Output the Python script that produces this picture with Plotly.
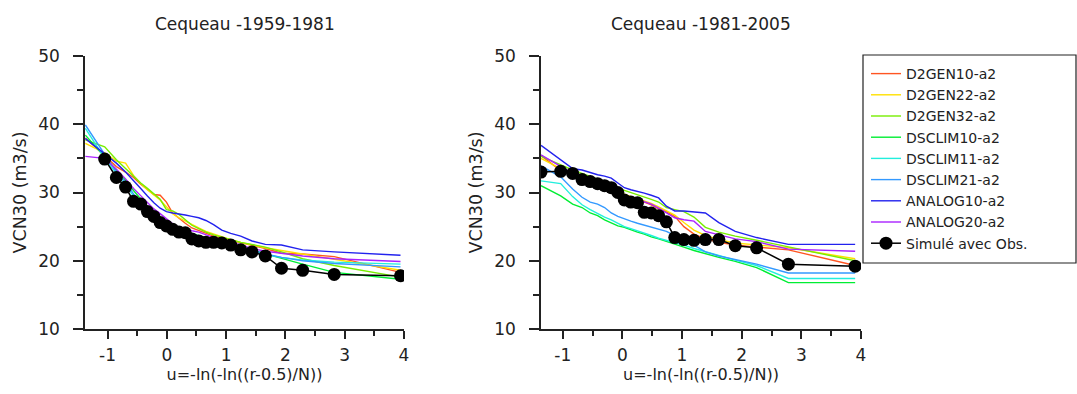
import plotly.graph_objects as go

# ---------------- data ----------------
series_names = ["D2GEN10-a2", "D2GEN22-a2", "D2GEN32-a2", "DSCLIM10-a2",
                "DSCLIM11-a2", "DSCLIM21-a2", "ANALOG10-a2", "ANALOG20-a2"]
obs_name = "Simulé avec Obs."

# reduced variable u = -ln(-ln((r-0.5)/N)), period 1959-1981 (26 ranks)
u_left = [-1.374, -1.048, -0.851, -0.696, -0.562, -0.440, -0.327, -0.218, -0.112,
          -0.007, 0.098, 0.204, 0.311, 0.423, 0.538, 0.659, 0.788, 0.927, 1.078,
          1.246, 1.437, 1.661, 1.934, 2.291, 2.823, 3.941]
# period 1981-2005 (25 ranks)
u_right = [-1.364, -1.034, -0.834, -0.676, -0.539, -0.415, -0.298, -0.186, -0.076,
           0.033, 0.142, 0.253, 0.367, 0.484, 0.608, 0.738, 0.878, 1.031, 1.200,
           1.392, 1.617, 1.892, 2.250, 2.783, 3.902]

left_D2GEN10 = [38.0, 35.3, 33.8, 33.0, 32.2, 31.2, 30.4, 29.7, 29.6, 28.6, 27.0, 26.2, 25.5,
                24.8, 24.4, 24.0, 23.6, 23.3, 23.0, 22.6, 22.3, 21.8, 21.1, 21.0, 20.6, 18.3]
left_D2GEN22 = [37.2, 35.8, 34.6, 34.3, 32.5, 31.3, 30.4, 29.6, 28.9, 27.9, 26.9, 26.3, 25.8,
                25.3, 24.8, 24.3, 23.9, 23.5, 23.1, 22.7, 22.3, 21.9, 21.5, 21.0, 20.2, 18.6]
left_D2GEN32 = [37.7, 36.7, 34.8, 33.5, 32.3, 31.4, 30.6, 29.8, 29.0, 27.5, 27.3, 26.8, 26.0,
                25.2, 24.7, 24.2, 23.8, 23.5, 23.1, 22.7, 22.4, 22.0, 21.3, 20.3, 19.3, 17.6]
left_DSCLIM10 = [38.4, 35.2, 33.3, 31.8, 30.3, 29.0, 27.9, 27.0, 26.2, 25.6, 25.1, 24.7, 24.3,
                 24.0, 23.6, 23.3, 23.0, 22.7, 22.4, 22.0, 21.6, 21.0, 20.3, 19.5, 18.3, 17.3]
left_DSCLIM11 = [39.4, 35.0, 32.8, 31.0, 29.5, 28.3, 27.4, 26.6, 25.9, 25.3, 24.8, 24.4, 24.0,
                 23.7, 23.4, 23.1, 22.8, 22.5, 22.2, 21.8, 21.4, 20.9, 20.5, 20.1, 19.8, 19.5]
left_DSCLIM21 = [39.9, 35.5, 33.0, 31.5, 29.8, 28.6, 27.6, 26.7, 26.0, 25.4, 25.0, 24.6, 24.2,
                 23.8, 23.5, 23.2, 23.0, 22.7, 22.4, 22.0, 21.6, 21.0, 20.5, 20.0, 19.6, 19.1]
left_ANALOG10 = [37.9, 35.6, 34.3, 33.0, 31.8, 30.6, 29.5, 28.5, 27.7, 27.2, 27.0, 26.9, 26.7,
                 26.5, 26.3, 25.9, 25.3, 24.5, 24.0, 23.6, 22.9, 22.4, 22.3, 21.6, 21.3, 20.8]
left_ANALOG20 = [35.3, 35.0, 33.4, 32.0, 30.6, 29.5, 28.5, 27.6, 26.9, 26.2, 25.4, 24.9, 24.6,
                 24.4, 24.2, 23.8, 23.4, 23.1, 22.8, 22.3, 21.8, 21.4, 21.1, 20.7, 20.3, 19.9]
# observed-driven simulation (ranks 2..26)
u_left_obs = u_left[1:]
left_obs = [34.9, 32.2, 30.8, 28.7, 28.3, 27.2, 26.5, 25.6, 25.1, 24.6, 24.2, 24.1, 23.2,
            22.9, 22.7, 22.7, 22.6, 22.3, 21.6, 21.3, 20.7, 18.9, 18.6, 18.0, 17.8]

right_D2GEN10 = [35.4, 33.2, 32.6, 32.2, 31.8, 31.3, 30.8, 30.4, 30.0, 29.6, 29.3, 29.0, 28.6,
                 28.2, 27.6, 27.2, 26.5, 25.0, 23.9, 23.2, 22.7, 22.3, 22.0, 21.6, 19.3]
right_D2GEN22 = [35.0, 33.5, 32.8, 32.3, 31.8, 31.3, 30.9, 30.5, 30.1, 29.7, 29.4, 29.1, 28.8,
                 28.4, 27.9, 27.3, 26.7, 25.6, 24.5, 23.7, 23.1, 22.6, 22.3, 21.9, 20.3]
right_D2GEN32 = [35.3, 34.0, 33.3, 32.8, 32.4, 32.0, 31.6, 31.2, 30.6, 30.3, 30.0, 29.7, 29.4,
                 29.0, 28.6, 27.8, 27.5, 27.2, 26.4, 24.9, 24.2, 23.6, 23.0, 22.0, 20.0]
right_DSCLIM10 = [31.0, 29.5, 28.3, 27.8, 27.0, 26.6, 26.0, 25.6, 25.1, 24.9, 24.5, 24.2, 23.9,
                  23.5, 23.2, 22.8, 22.4, 22.0, 21.5, 21.0, 20.5, 19.9, 19.0, 16.8, 16.8]
right_DSCLIM11 = [31.7, 31.3, 29.4, 28.2, 27.5, 26.9, 26.4, 26.0, 25.5, 25.0, 24.7, 24.4, 24.1,
                  23.7, 23.3, 23.0, 22.7, 22.3, 21.8, 21.3, 20.8, 20.1, 19.3, 17.4, 17.4]
right_DSCLIM21 = [33.9, 32.3, 30.5, 29.3, 28.6, 28.3, 27.8, 27.0, 26.5, 26.1, 25.8, 25.5, 25.2,
                  24.9, 24.6, 24.3, 23.7, 23.4, 22.3, 21.3, 20.7, 20.2, 19.5, 18.2, 18.2]
right_ANALOG10 = [36.9, 34.7, 33.5, 33.3, 32.9, 32.6, 32.4, 32.1, 31.4, 30.7, 30.4, 30.1, 29.9,
                  29.6, 29.2, 28.0, 27.3, 27.3, 27.2, 27.0, 25.6, 24.3, 23.4, 22.4, 22.4]
right_ANALOG20 = [35.5, 33.8, 32.8, 32.0, 31.4, 30.9, 30.6, 30.3, 30.0, 29.6, 29.3, 29.0, 28.7,
                  28.3, 27.7, 27.0, 26.3, 26.0, 25.8, 24.3, 23.8, 23.2, 22.8, 21.7, 21.4]
right_obs = [33.0, 33.1, 32.8, 31.9, 31.6, 31.3, 31.0, 30.7, 30.0, 28.9, 28.6, 28.5, 27.1,
             27.0, 26.6, 25.7, 23.4, 23.1, 23.0, 23.1, 23.1, 22.2, 21.9, 19.5, 19.2]

left_series = [left_D2GEN10, left_D2GEN22, left_D2GEN32, left_DSCLIM10,
               left_DSCLIM11, left_DSCLIM21, left_ANALOG10, left_ANALOG20]
right_series = [right_D2GEN10, right_D2GEN22, right_D2GEN32, right_DSCLIM10,
                right_DSCLIM11, right_DSCLIM21, right_ANALOG10, right_ANALOG20]

titles = ["Cequeau -1959-1981", "Cequeau -1981-2005"]
x_title = "u=-ln(-ln((r-0.5)/N))"
y_title = "VCN30 (m3/s)"
x_tickvals = [-1, 0, 1, 2, 3, 4]
x_ticktext = ["-1", "0", "1", "2", "3", "4"]
y_tickvals = [10, 20, 30, 40, 50]
y_ticktext = ["10", "20", "30", "40", "50"]

# ---------------- style ----------------
colors = ["#ff5522", "#ffe000", "#77ee00", "#00ee33",
          "#22eedd", "#3399ff", "#2222ee", "#aa22ff"]
FONT = "DejaVu Sans"
TXT = "#222222"

fig = go.Figure()
for i, name in enumerate(series_names):
    fig.add_trace(go.Scatter(x=u_left, y=left_series[i], mode="lines", name=name,
                             line=dict(color=colors[i], width=1.4),
                             xaxis="x", yaxis="y", legendgroup=name))
fig.add_trace(go.Scatter(x=u_left_obs, y=left_obs, mode="lines+markers", name=obs_name,
                         line=dict(color="black", width=1.5),
                         marker=dict(color="black", size=13),
                         xaxis="x", yaxis="y", legendgroup=obs_name))
for i, name in enumerate(series_names):
    fig.add_trace(go.Scatter(x=u_right, y=right_series[i], mode="lines", name=name,
                             line=dict(color=colors[i], width=1.4), showlegend=False,
                             xaxis="x2", yaxis="y2", legendgroup=name))
fig.add_trace(go.Scatter(x=u_right, y=right_obs, mode="lines+markers", name=obs_name,
                         line=dict(color="black", width=1.5),
                         marker=dict(color="black", size=13), showlegend=False,
                         xaxis="x2", yaxis="y2", legendgroup=obs_name))

W, H = 1077, 394
ML, MR, MT, MB = 85, 0, 56, 65
PW = W - ML - MR
PH = H - MT - MB

def xax(domain, rng):
    return dict(domain=domain, range=rng, showline=True, linecolor=TXT, linewidth=1.5,
                ticks="outside", ticklen=8, tickwidth=1.5, tickcolor=TXT,
                tickmode="array", tickvals=x_tickvals, ticktext=x_ticktext,
                showgrid=False, zeroline=False,
                minor=dict(ticks="outside", ticklen=5, tickwidth=1.5, tickcolor=TXT,
                           tick0=0, dtick=0.5, showgrid=False),
                tickfont=dict(family=FONT, size=17, color=TXT), ticklabelstandoff=2,
                title=dict(text=x_title, font=dict(family=FONT, size=16, color=TXT), standoff=1),
                automargin=False)

def yax(anchor):
    return dict(domain=[0, 1], range=[10, 50], anchor=anchor, showline=True,
                linecolor=TXT, linewidth=1.5, ticks="outside", ticklen=10, tickwidth=1.5,
                tickcolor=TXT, tickmode="array", tickvals=y_tickvals, ticktext=y_ticktext,
                showgrid=False, zeroline=False,
                minor=dict(ticks="outside", ticklen=6, tickwidth=1.5, tickcolor=TXT,
                           tick0=10, dtick=5, showgrid=False),
                tickfont=dict(family=FONT, size=17, color=TXT), ticklabelstandoff=10,
                title=dict(text=y_title, font=dict(family=FONT, size=17.5, color=TXT), standoff=7),
                automargin=False)

left_dom = [0, (404 - ML) / PW]
right_dom = [(541 - ML) / PW, (861 - ML) / PW]

fig.update_layout(
    width=W, height=H, margin=dict(l=ML, r=MR, t=MT, b=MB),
    paper_bgcolor="white", plot_bgcolor="white", template="none",
    xaxis=dict(xax(left_dom, [-1.38, 4]), anchor="y"),
    yaxis=yax("x"),
    xaxis2=dict(xax(right_dom, [-1.364, 4]), anchor="y2"),
    yaxis2=yax("x2"),
    showlegend=True,
    legend=dict(x=(866 - ML) / PW, y=1 + (MT - 58) / PH, xanchor="left", yanchor="top",
                borderwidth=0, bgcolor="rgba(0,0,0,0)",
                font=dict(family=FONT, size=14, color=TXT),
                itemwidth=30, tracegroupgap=0, maxheight=300),
    shapes=[dict(type="rect", xref="paper", yref="paper",
                 x0=(863 - ML) / PW, x1=(1076 - ML) / PW,
                 y0=1 + (MT - 263) / PH, y1=1 + (MT - 55) / PH,
                 line=dict(color=TXT, width=1.2), fillcolor="rgba(0,0,0,0)", layer="above")],
    annotations=[
        dict(text=titles[0], x=(left_dom[0] + left_dom[1]) / 2, y=1.0, xref="paper", yref="paper",
             xanchor="center", yanchor="middle", yshift=32, showarrow=False,
             font=dict(family=FONT, size=17, color=TXT)),
        dict(text=titles[1], x=(right_dom[0] + right_dom[1]) / 2, y=1.0, xref="paper", yref="paper",
             xanchor="center", yanchor="middle", yshift=32, showarrow=False,
             font=dict(family=FONT, size=17, color=TXT)),
    ],
)

fig.write_html("out.html", config={"displayModeBar": False},
               post_script="document.body.style.margin='0';")
